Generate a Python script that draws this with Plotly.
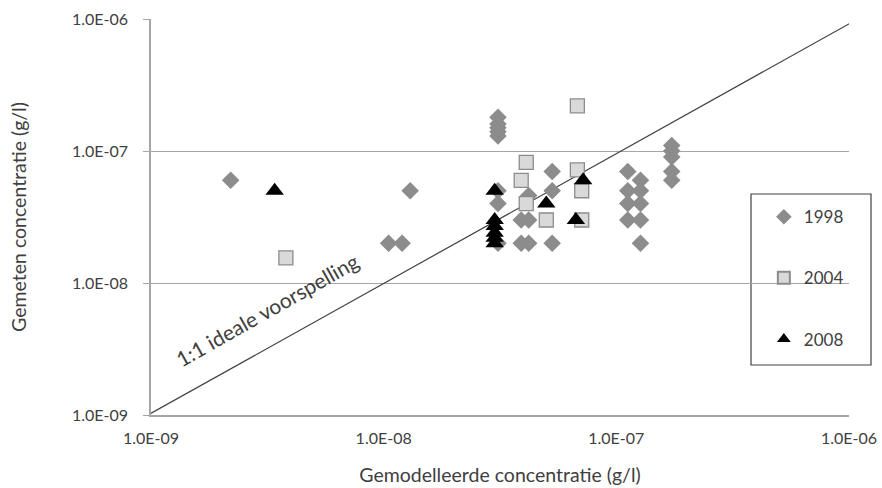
import plotly.graph_objects as go

# 1998 (diamonds)
x_1998 = [2.2e-9, 1.3e-8, 1.05e-8, 1.2e-8,
          3.1e-8, 3.1e-8, 3.1e-8, 3.1e-8, 3.1e-8, 3.1e-8, 3.1e-8, 3.1e-8,
          3.9e-8, 4.2e-8, 3.9e-8, 4.2e-8, 4.2e-8,
          5.3e-8, 5.3e-8, 5.3e-8,
          1.12e-7, 1.12e-7, 1.12e-7, 1.12e-7,
          1.27e-7, 1.27e-7, 1.27e-7, 1.27e-7, 1.27e-7,
          1.73e-7, 1.73e-7, 1.73e-7, 1.73e-7, 1.73e-7]
y_1998 = [6e-8, 5e-8, 2e-8, 2e-8,
          1.8e-7, 1.6e-7, 1.5e-7, 1.4e-7, 1.3e-7, 5e-8, 4e-8, 2e-8,
          3e-8, 3e-8, 2e-8, 2e-8, 4.6e-8,
          7e-8, 5e-8, 2e-8,
          7e-8, 5e-8, 4e-8, 3e-8,
          6e-8, 5e-8, 4e-8, 3e-8, 2e-8,
          1.1e-7, 1e-7, 9e-8, 7e-8, 6e-8]

# 2004 (squares)
x_2004 = [3.8e-9, 6.8e-8, 4.1e-8, 3.9e-8, 4.1e-8, 5e-8, 6.8e-8, 7.1e-8, 7.1e-8]
y_2004 = [1.55e-8, 2.2e-7, 8.2e-8, 6e-8, 4e-8, 3e-8, 7.2e-8, 5e-8, 3e-8]

# 2008 (triangles)
x_2008 = [3.4e-9, 3e-8, 3e-8, 3e-8, 3e-8, 3e-8, 3e-8, 5e-8, 6.7e-8, 7.2e-8]
y_2008 = [5e-8, 5e-8, 3e-8, 2.7e-8, 2.4e-8, 2.2e-8, 2e-8, 4e-8, 3e-8, 6e-8]

# 1:1 line (as drawn in the original, running slightly past the axis end)
line_x = [0.97e-9, 1.09e-6]
line_y = [1e-9, 1e-6]

tick_vals = [1e-9, 1e-8, 1e-7, 1e-6]
tick_text = ["1.0E-09", "1.0E-08", "1.0E-07", "1.0E-06"]

FONT = "Lato"
TXT = "#404040"
GRID = "#a6a6a6"

fig = go.Figure()
fig.add_trace(go.Scatter(x=line_x, y=line_y, mode="lines", cliponaxis=False,
                         line=dict(color="#404040", width=1.2),
                         showlegend=False, hoverinfo="skip"))
fig.add_trace(go.Scatter(x=x_1998, y=y_1998, mode="markers", name="1998",
                         legendgroup="a",
                         marker=dict(symbol="diamond", size=13.5, color="#8c8c8c",
                                     line=dict(width=0))))
fig.add_trace(go.Scatter(x=x_2004, y=y_2004, mode="markers", name="2004",
                         legendgroup="b",
                         marker=dict(symbol="square", size=14, color="#d9d9d9",
                                     line=dict(width=1.3, color="#8c8c8c"))))
fig.add_trace(go.Scatter(x=x_2008, y=y_2008, mode="markers", name="2008",
                         legendgroup="c",
                         marker=dict(symbol="triangle-up", size=16, color="#000000",
                                     line=dict(width=0))))

fig.update_layout(
    width=882, height=488,
    margin=dict(l=151, r=33, t=19, b=73, autoexpand=False),
    paper_bgcolor="white", plot_bgcolor="white",
    font=dict(family=FONT, color=TXT, size=13),
    legend=dict(x=0.878, y=0.545, xanchor="left", yanchor="top",
                bgcolor="rgba(0,0,0,0)", borderwidth=0,
                font=dict(size=17, color=TXT, family=FONT),
                tracegroupgap=36, itemsizing="constant"),
    shapes=[dict(type="rect", xref="paper", yref="paper",
                 x0=(751 - 151) / 698, x1=(871 - 151) / 698,
                 y0=(415 - 365) / 396, y1=(415 - 194) / 396,
                 line=dict(color="#404040", width=1.2),
                 fillcolor="white", layer="between")],
    annotations=[dict(x=-8.5, y=-8.2, xref="x", yref="y",
                      text="1:1 ideale voorspelling", showarrow=False,
                      textangle=-29.5, font=dict(size=21, color=TXT, family=FONT))],
)
fig.update_xaxes(type="log", range=[-9, -6], tickvals=tick_vals, ticktext=tick_text,
                 automargin=False,
                 showgrid=False, showline=True, linecolor=GRID, linewidth=1.5,
                 ticks="", tickfont=dict(size=16, color=TXT), ticklabelstandoff=8,
                 title=dict(text="Gemodelleerde concentratie (g/l)",
                            font=dict(size=19.5, color=TXT), standoff=22),
                 zeroline=False)
fig.update_yaxes(type="log", range=[-9, -6], tickvals=tick_vals, ticktext=tick_text,
                 automargin=False,
                 showgrid=True, gridcolor=GRID, gridwidth=1.3,
                 showline=True, linecolor=GRID, linewidth=1.5,
                 ticks="outside", ticklen=6, tickcolor=GRID,
                 tickfont=dict(size=16, color=TXT), ticklabelstandoff=12,
                 title=dict(text="Gemeten concentratie (g/l)",
                            font=dict(size=19.5, color=TXT), standoff=40),
                 zeroline=False)

fig.write_html("out.html", config={"displayModeBar": False},
               post_script="document.body.style.margin='0';")
